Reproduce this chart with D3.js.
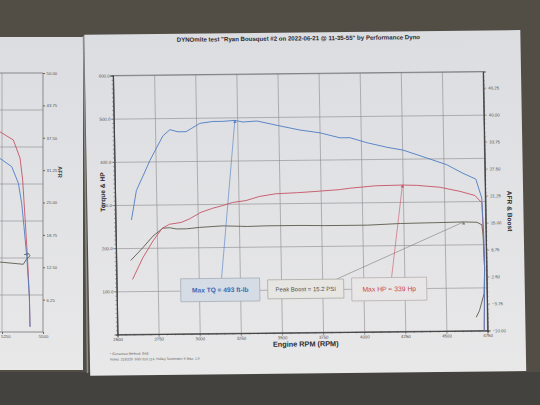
<!DOCTYPE html>
<html>
<head>
<meta charset="utf-8">
<script src="https://cdn.jsdelivr.net/npm/d3@7"></script>
<style>
body { margin: 0; background: #4d4a44; }
svg { display: block; font-family: "Liberation Sans", Arial, sans-serif; }
</style>
</head>
<body>
<svg width="540" height="405"></svg>
<script>
/*
Values
*/
var titleText = 'DYNOmite test "Ryan Bousquet #2 on 2022-06-21 @ 11-35-55" by Performance Dyno';
var rpmTicks = [2500, 2750, 3000, 3250, 3500, 3750, 4000, 4250, 4500, 4750];
var leftTicks = [100, 200, 300, 400, 500, 600];
var rightTicks = [-10, -3.75, 2.5, 8.75, 15, 21.25, 27.5, 33.75, 40, 46.25];

// torque (ft-lb)
var tqRpm = [2597, 2630, 2686, 2715, 2797, 2840, 2889, 2938, 3023, 3102, 3163, 3236, 3285, 3370, 3510, 3631, 3753, 3873, 3934, 4036, 4157, 4255, 4400, 4520, 4616, 4695, 4729, 4737, 4739, 4730];
var tqVal = [265, 333, 378, 402, 459, 473, 468, 468, 487, 491, 491, 493, 489, 491, 479, 469, 462, 450, 450, 438, 427, 420, 401, 385, 365, 351, 307, 224, 145, 0];

// horsepower
var hpRpm = [2597, 2662, 2726, 2783, 2828, 2899, 2950, 3021, 3092, 3153, 3214, 3295, 3376, 3477, 3610, 3704, 3866, 3927, 4086, 4248, 4334, 4475, 4597, 4688, 4729, 4736, 4739, 4730];
var hpVal = [127, 177, 216, 245, 254, 258, 266, 281, 290, 296, 303, 307, 316, 322, 324, 326, 330, 333, 338, 339, 338, 333, 323, 313, 296, 210, 140, 0];

// boost (psi), right axis
var boostRpm = [2588, 2662, 2726, 2787, 2828, 2869, 2930, 3011, 3150, 3300, 3420, 3627, 3770, 4030, 4232, 4435, 4616, 4697, 4727, 4733, 4739, 4733, 4703, 4683];
var boostVal = [7.1, 10.0, 12.7, 14.5, 14.6, 14.3, 14.3, 14.6, 14.9, 14.7, 14.8, 14.8, 14.7, 14.7, 15.0, 15.1, 15.2, 15.1, 14.5, 12.2, 4.5, -1.5, -5.4, -6.9];

// peaks
var peakTq = {rpm: 3236, value: 493};
var peakHp = {rpm: 4248, value: 339};
var peakBoost = {rpm: 4616, value: 15.2};

// partial sheet on the left edge of the photo
var sideRpmTicks = [5250, 5500];
var sideAfrTicks = [6.25, 12.5, 18.75, 25, 31.25, 37.5, 43.75, 50];
var sideGridTicks = [100, 200, 300, 400, 500, 600];
var sideRedRpm = [5238, 5319, 5360, 5376, 5390, 5405, 5417, 5421];
var sideRedVal = [541, 519, 470, 411, 312, 204, 95, 14];
var sideBlueRpm = [5238, 5309, 5350, 5370, 5384, 5401, 5417, 5421];
var sideBlueVal = [469, 447, 402, 348, 285, 204, 95, 14];
var sideGrayRpm = [5238, 5380, 5398, 5421, 5412, 5385];
var sideGrayVal = [189, 183, 196, 206, 212, 209];

var svg = d3.select("svg");
var W = 370, H = 259;
var gridColor = "#8b8b8d", inkColor = "#3a3a3a";
var blue = "#4e7dc4", red = "#c65566", olive = "#5c5c4c";

// background: floor and paper
var defs = svg.append("defs");
var grad = defs.append("linearGradient").attr("id", "paper").attr("x1", 0).attr("y1", 0).attr("x2", 0).attr("y2", 1);
grad.append("stop").attr("offset", 0).attr("stop-color", "#dcdde1");
grad.append("stop").attr("offset", 1).attr("stop-color", "#e8e8e9");

svg.append("rect").attr("width", 540).attr("height", 405).attr("fill", "#524e46");
svg.append("rect").attr("y", 372).attr("width", 540).attr("height", 33).attr("fill", "#43423e");

/*
Left sheet (only its right part is in the photo)
*/
var side = svg.append("g");
side.append("rect").attr("x", -5).attr("y", 37).attr("width", 88).attr("height", 333).attr("fill", "url(#paper)");

var sx = d3.scaleLinear().domain([5250, 5500]).range([2, 43]),
    sy = d3.scaleLinear().domain([0, 700]).range([332, 73]),
    sAfr = d3.scaleLinear().domain([0, 50]).range([332, 73]);

side.selectAll(".sgrid").data(sideGridTicks).enter().append("line")
    .attr("x1", -5).attr("x2", 43)
    .attr("y1", function(d) { return sy(d); }).attr("y2", function(d) { return sy(d); })
    .attr("stroke", gridColor).attr("stroke-width", 0.6);
side.append("line").attr("x1", sx(5250)).attr("x2", sx(5250)).attr("y1", 73).attr("y2", 332)
    .attr("stroke", gridColor).attr("stroke-width", 0.6);
side.append("path").attr("d", "M-5,73H43V332H-5").attr("fill", "none").attr("stroke", "#666").attr("stroke-width", 0.7);

side.append("g").attr("transform", "translate(43,0)")
    .call(d3.axisRight(sAfr).tickValues(sideAfrTicks).tickFormat(d3.format(".2f")).tickSize(2))
    .call(function(g) { g.select(".domain").remove(); })
    .call(function(g) { g.selectAll("text").attr("x", 3.5).style("font-size", "4.3px").attr("fill", "#555"); g.selectAll("line").attr("stroke", "#666"); });
side.append("g").attr("transform", "translate(0,332)")
    .call(d3.axisBottom(sx).tickValues(sideRpmTicks).tickFormat(d3.format("d")).tickSize(2))
    .call(function(g) { g.select(".domain").remove(); })
    .call(function(g) {
        g.selectAll("text").attr("y", 3).style("font-size", "4.3px").attr("fill", "#555")
            .attr("text-anchor", function(d) { return d === 5250 ? "start" : "middle"; })
            .attr("x", function(d) { return d === 5250 ? -1.5 : 0; });
        g.selectAll("line").attr("stroke", "#666");
    });
side.append("text").attr("transform", "translate(58,172) rotate(90)").attr("text-anchor", "middle")
    .style("font-size", "5.5px").style("font-weight", "bold").attr("fill", "#333").text("AFR");

var sideLine = d3.line().x(function(d) { return sx(d[0]); }).y(function(d) { return sy(d[1]); });
[[sideRedRpm, sideRedVal, red], [sideBlueRpm, sideBlueVal, blue], [sideGrayRpm, sideGrayVal, olive]].forEach(function(s) {
    side.append("path").datum(d3.zip(s[0], s[1])).attr("d", sideLine)
        .attr("fill", "none").attr("stroke", s[2]).attr("stroke-width", 0.9);
});
// shadow along the edge of the main sheet
svg.append("line").attr("x1", 83.5).attr("y1", 36).attr("x2", 87.5).attr("y2", 373)
    .attr("stroke", "#8d8c8c").attr("stroke-width", 1.5);

/*
Main sheet, slightly skewed like the photo
*/
var page = svg.append("g").attr("transform", "matrix(1,-0.0108,0.0174,1,113,75.5)");
page.append("rect").attr("x", -28).attr("y", -41).attr("width", 436).attr("height", 341).attr("fill", "url(#paper)");

var xScale = d3.scaleLinear().domain([2500, 4750]).range([0, W]),
    yScale = d3.scaleLinear().domain([0, 600]).range([H, 0]),
    yRight = d3.scaleLinear().domain([-10, 50]).range([H, 0]);

page.append("text").attr("x", W / 2 + 1).attr("y", -33).attr("text-anchor", "middle")
    .style("font-size", "6.1px").style("font-weight", "bold").attr("fill", "#2b2b2e").text(titleText);

var g = page.append("g");

// grid
g.append("g").call(d3.axisBottom(xScale).tickValues(rpmTicks).tickSize(H).tickFormat(""))
    .call(function(a) { a.select(".domain").remove(); a.selectAll("line").attr("stroke", gridColor).attr("stroke-width", 0.6); });
g.append("g").call(d3.axisRight(yScale).tickValues(leftTicks).tickSize(W).tickFormat(""))
    .call(function(a) { a.select(".domain").remove(); a.selectAll("line").attr("stroke", gridColor).attr("stroke-width", 0.6); });
g.append("rect").attr("width", W).attr("height", H).attr("fill", "none").attr("stroke", "#666").attr("stroke-width", 0.7);

// axes with minor ticks
function styleAxis(a, size) {
    a.select(".domain").attr("stroke", inkColor).attr("stroke-width", 0.7);
    a.selectAll("line").attr("stroke", "#555").attr("stroke-width", 0.5);
    a.selectAll("text").style("font-size", size).attr("fill", "#4a4a4a");
}
g.append("g").call(d3.axisLeft(yScale).ticks(60).tickSize(1.5).tickFormat(""))
    .call(function(a) { styleAxis(a, "4px"); });
g.append("g").call(d3.axisLeft(yScale).tickValues(leftTicks).tickSize(3).tickFormat(d3.format(".1f")))
    .call(function(a) { styleAxis(a, "4.3px"); a.selectAll("text").attr("x", -3.5); });
g.append("g").attr("transform", "translate(" + W + ",0)")
    .call(d3.axisRight(yRight).ticks(60).tickSize(1.5).tickFormat(""))
    .call(function(a) { styleAxis(a, "4px"); });
g.append("g").attr("transform", "translate(" + W + ",0)")
    .call(d3.axisRight(yRight).tickValues(rightTicks).tickSize(3).tickFormat(d3.format(".2f")))
    .call(function(a) { styleAxis(a, "4.3px"); a.selectAll("text").attr("x", 5); });
g.append("g").attr("transform", "translate(0," + H + ")")
    .call(d3.axisBottom(xScale).ticks(45).tickSize(1.5).tickFormat(""))
    .call(function(a) { styleAxis(a, "4px"); });
g.append("g").attr("transform", "translate(0," + H + ")")
    .call(d3.axisBottom(xScale).tickValues(rpmTicks).tickSize(3).tickFormat(d3.format("d")))
    .call(function(a) { styleAxis(a, "4.3px"); a.selectAll("text").attr("y", 3.5); });

// axis titles
g.append("text").attr("x", W / 2 + 3).attr("y", H + 14).attr("text-anchor", "middle")
    .style("font-size", "7.3px").style("font-weight", "bold").attr("fill", "#2b2b2e").text("Engine RPM (RPM)");
g.append("text").attr("transform", "translate(-10," + (H * 0.45) + ") rotate(-90)").attr("text-anchor", "middle")
    .style("font-size", "6.6px").style("font-weight", "bold").attr("fill", "#2b2b2e").text("Torque & HP");
g.append("text").attr("transform", "translate(" + (W + 22) + "," + (H * 0.54) + ") rotate(90)").attr("text-anchor", "middle")
    .style("font-size", "6.6px").style("font-weight", "bold").attr("fill", "#2b2b2e").text("AFR & Boost");

// notes
g.append("text").attr("x", -8).attr("y", H + 20.5).style("font-size", "3.4px").attr("fill", "#555")
    .text("* Correction Method: SAE");
g.append("text").attr("x", -8).attr("y", H + 26).style("font-size", "3.4px").attr("fill", "#555")
    .text("Notes: 219/220 .600/.610 114, Holley Terminator X Max, 1.5");

// curves
var lineLeft = d3.line().x(function(d) { return xScale(d[0]); }).y(function(d) { return yScale(d[1]); });
var lineRight = d3.line().x(function(d) { return xScale(d[0]); }).y(function(d) { return yRight(d[1]); });

g.append("path").datum(d3.zip(boostRpm, boostVal)).attr("d", lineRight)
    .attr("fill", "none").attr("stroke", olive).attr("stroke-width", 0.9);
g.append("path").datum(d3.zip(hpRpm, hpVal)).attr("d", lineLeft)
    .attr("fill", "none").attr("stroke", red).attr("stroke-width", 0.9);
g.append("path").datum(d3.zip(tqRpm, tqVal)).attr("d", lineLeft)
    .attr("fill", "none").attr("stroke", blue).attr("stroke-width", 0.9);

// callout boxes with pointer lines
var boxes = [
    {x: 64, y: 204, w: 79, h: 23, fill: "#d6dce5", stroke: "#a7adb5", color: "#3a69b2", weight: "bold", size: "6.6px",
     text: "Max TQ =  493 ft-lb", fx: 105, px: xScale(peakTq.rpm), py: yScale(peakTq.value), lc: blue},
    {x: 151, y: 206, w: 76, h: 19, fill: "#e7e6e3", stroke: "#a9a9a6", color: "#505050", weight: "normal", size: "6px",
     text: "Peak Boost =  15.2 PSI", fx: 220, px: xScale(peakBoost.rpm), py: yRight(peakBoost.value), lc: "#7d7d78"},
    {x: 235, y: 205, w: 75, h: 23, fill: "#e9e6e7", stroke: "#b5aeb0", color: "#c5475a", weight: "normal", size: "6.8px",
     text: "Max HP =  339 Hp", fx: 275, px: xScale(peakHp.rpm), py: yScale(peakHp.value), lc: red}
];
boxes.forEach(function(b) {
    g.append("line").attr("x1", b.fx).attr("y1", b.y).attr("x2", b.px).attr("y2", b.py)
        .attr("stroke", b.lc).attr("stroke-width", 0.6);
    g.append("path").attr("d", d3.symbol().type(d3.symbolTriangle).size(5)())
        .attr("transform", "translate(" + b.px + "," + (b.py + 1.5) + ")")
        .attr("fill", b.lc);
    g.append("rect").attr("x", b.x).attr("y", b.y).attr("width", b.w).attr("height", b.h)
        .attr("fill", b.fill).attr("stroke", b.stroke).attr("stroke-width", 0.8);
    g.append("text").attr("x", b.x + b.w / 2).attr("y", b.y + b.h / 2 + 2.3).attr("text-anchor", "middle")
        .style("font-size", b.size).style("font-weight", b.weight).attr("fill", b.color).text(b.text);
});
</script>
</body>
</html>
